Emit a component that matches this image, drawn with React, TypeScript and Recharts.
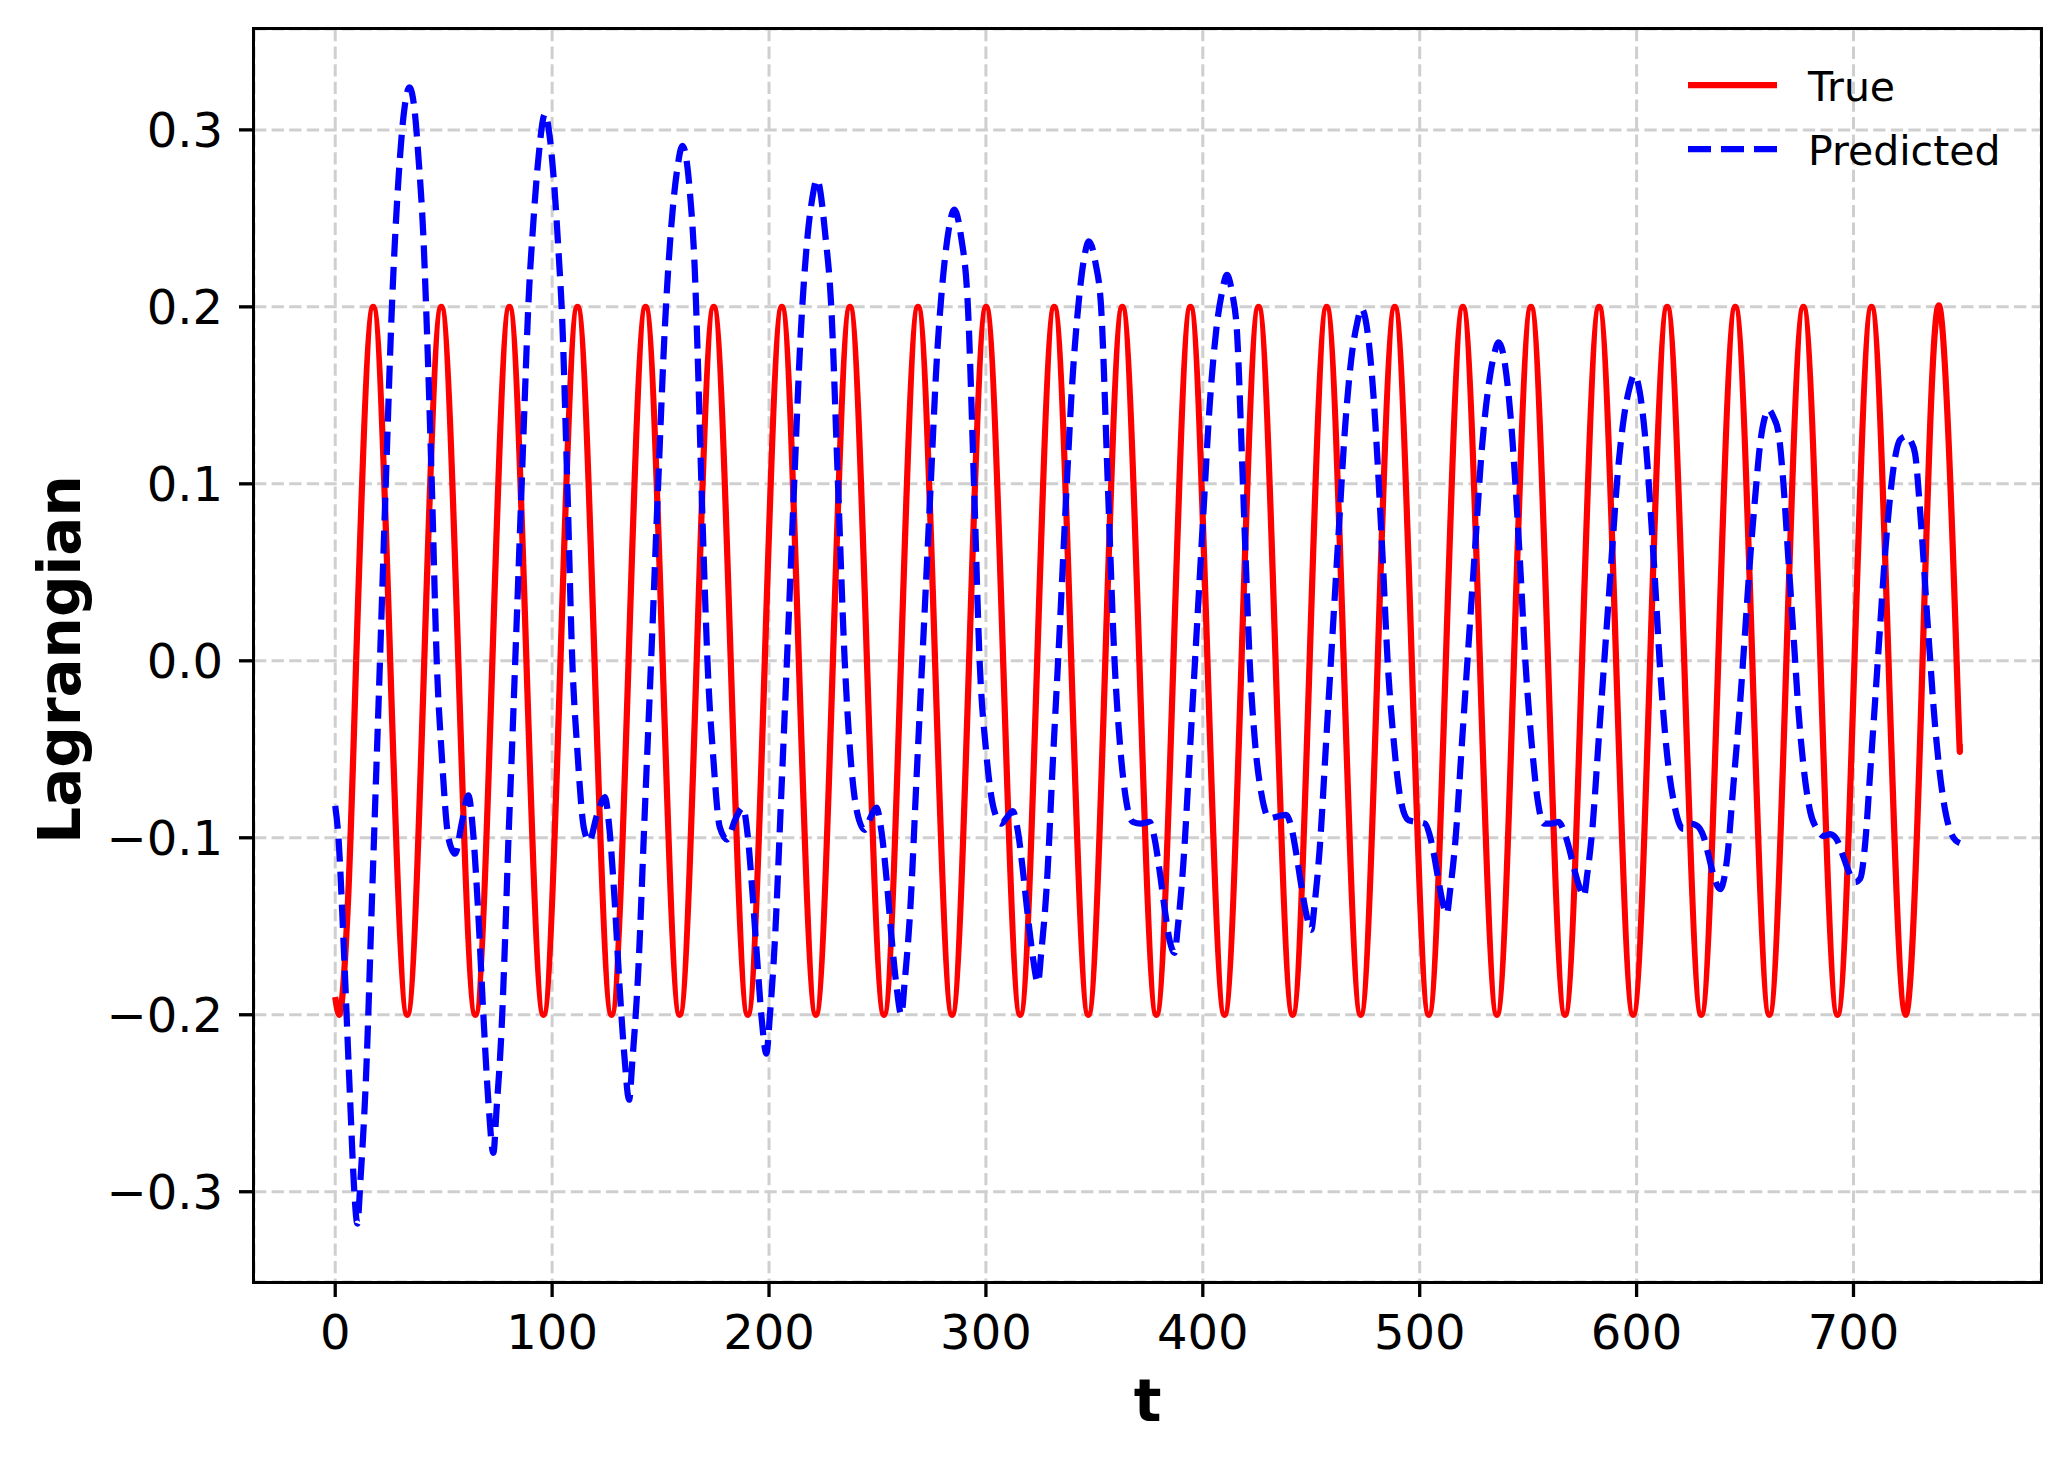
import React from 'react';
import { LineChart, Line, XAxis, YAxis, CartesianGrid, Legend } from 'recharts';

const FONT = 'DejaVu Sans';

const X_TICKS = [0, 100, 200, 300, 400, 500, 600, 700];
const Y_TICKS = [-0.3, -0.2, -0.1, 0, 0.1, 0.2, 0.3];

// True Lagrangian, first hook (t = 0 up to the first zero crossing)
const trueHead: [number, number][] = [
    [0, -0.19], [1.8, -0.2], [5.7, -0.141], [9.65, 0],
];

// True Lagrangian: zero crossings, peaks and troughs
const trueBody: [number, number][] = [
    [9.65, 0], [17.5, 0.2], [25.35, 0],
    [33.2, -0.2], [41.05, 0], [48.9, 0.2], [56.75, 0],
    [64.6, -0.2], [72.45, 0], [80.3, 0.2], [88.15, 0],
    [96.0, -0.2], [103.85, 0], [111.7, 0.2], [119.55, 0],
    [127.4, -0.2], [135.25, 0], [143.1, 0.2], [150.95, 0],
    [158.8, -0.2], [166.65, 0], [174.5, 0.2], [182.35, 0],
    [190.2, -0.2], [198.05, 0], [205.9, 0.2], [213.75, 0],
    [221.6, -0.2], [229.45, 0], [237.3, 0.2], [245.15, 0],
    [253.0, -0.2], [260.85, 0], [268.7, 0.2], [276.55, 0],
    [284.4, -0.2], [292.25, 0], [300.1, 0.2], [307.95, 0],
    [315.8, -0.2], [323.65, 0], [331.5, 0.2], [339.35, 0],
    [347.2, -0.2], [355.05, 0], [362.9, 0.2], [370.75, 0],
    [378.6, -0.2], [386.45, 0], [394.3, 0.2], [402.15, 0],
    [410.0, -0.2], [417.85, 0], [425.7, 0.2], [433.55, 0],
    [441.4, -0.2], [449.25, 0], [457.1, 0.2], [464.95, 0],
    [472.8, -0.2], [480.65, 0], [488.5, 0.2], [496.35, 0],
    [504.2, -0.2], [512.05, 0], [519.9, 0.2], [527.75, 0],
    [535.6, -0.2], [543.45, 0], [551.3, 0.2], [559.15, 0],
    [567.0, -0.2], [574.85, 0], [582.7, 0.2], [590.55, 0],
    [598.4, -0.2], [606.25, 0], [614.1, 0.2], [621.95, 0],
    [629.8, -0.2], [637.65, 0], [645.5, 0.2], [653.35, 0],
    [661.2, -0.2], [669.05, 0], [676.9, 0.2], [684.75, 0],
    [692.6, -0.2], [700.45, 0], [708.3, 0.2], [716.15, 0],
    [724.0, -0.2], [731.85, 0], [739.7, 0.2], [747.55, 0],
    [749, -0.047],
];

// Predicted Lagrangian, one row per oscillation
const predictedPoints: [number, number][] = [
    [0, -0.082], [1.5, -0.1], [3.8, -0.158], [6.9, -0.249], [8.8, -0.3], [10.2, -0.318], [11.7, -0.292],
    [14.2, -0.235], [17.2, -0.125], [20.2, -0.016], [23.2, 0.096], [26.2, 0.202], [29.2, 0.273], [31.7, 0.31],
    [34.2, 0.324], [36.5, 0.312], [38.4, 0.284], [40.7, 0.238], [41.9, 0.2], [44.5, 0.101], [46.8, 0.0],
    [49.1, -0.053], [52.2, -0.1], [55.3, -0.109], [58.3, -0.092], [61.4, -0.076], [63.7, -0.099], [66.0, -0.144],
    [68.3, -0.2], [70.6, -0.249], [72.9, -0.278],

    [74.4, -0.253], [76.7, -0.208], [78.3, -0.158], [79.8, -0.103], [81.4, -0.053], [82.9, -0.003], [84.4, 0.047],
    [86.0, 0.101], [87.5, 0.152], [89.0, 0.2], [91.3, 0.247], [93.6, 0.283], [96.7, 0.309], [99.0, 0.295],
    [100.9, 0.27], [103.2, 0.226], [104.4, 0.2], [107.0, 0.1], [109.3, 0.0], [111.6, -0.05], [114.7, -0.095],
    [117.1, -0.102], [120.5, -0.088], [124.3, -0.077], [126.5, -0.096], [128.8, -0.135], [131.0, -0.182],
    [133.3, -0.223], [135.5, -0.248],

    [137.0, -0.226], [139.6, -0.178], [142.7, -0.086], [145.8, 0.005], [148.9, 0.1], [152.0, 0.189], [155.1, 0.248],
    [157.7, 0.278], [160.1, 0.291], [163.5, 0.265], [165.8, 0.22], [167.3, 0.165], [168.8, 0.101], [170.4, 0.04],
    [171.9, -0.008], [174.2, -0.053], [177.3, -0.094], [180.7, -0.101], [184.3, -0.09], [188.0, -0.083],
    [190.2, -0.099], [192.3, -0.13], [194.5, -0.168], [196.6, -0.202], [198.8, -0.222],

    [200.3, -0.202], [202.7, -0.158], [205.7, -0.074], [208.6, 0.01], [211.5, 0.097], [214.5, 0.182], [217.4, 0.235],
    [219.9, 0.261], [222.1, 0.272], [226.0, 0.24], [228.7, 0.2], [231.5, 0.11], [234.9, 0.0], [237.5, -0.053],
    [240.5, -0.085], [244.1, -0.0955], [247.0, -0.088], [249.5, -0.083], [251.8, -0.096], [254.1, -0.122],
    [256.4, -0.155], [258.7, -0.183], [261.0, -0.2],

    [262.5, -0.182], [265.1, -0.141], [268.1, -0.064], [271.2, 0.014], [274.3, 0.093], [277.3, 0.169], [280.4, 0.219],
    [282.9, 0.244], [285.3, 0.255], [288.5, 0.24], [291.7, 0.2], [294.5, 0.1], [297.1, 0.0], [300.0, -0.05],
    [303.5, -0.083], [307.1, -0.092], [310.0, -0.088], [312.4, -0.085], [314.7, -0.096], [317.0, -0.118],
    [319.4, -0.145], [321.7, -0.168], [324.0, -0.182],

    [325.5, -0.165], [328.0, -0.128], [330.9, -0.056], [333.9, 0.015], [336.8, 0.088], [339.8, 0.157], [342.8, 0.203],
    [345.2, 0.227], [347.5, 0.237], [350.5, 0.225], [353.1, 0.2], [356.2, 0.1], [359.3, 0.0], [362.0, -0.05],
    [364.8, -0.08], [367.7, -0.091], [371.5, -0.092], [375.4, -0.091], [377.7, -0.1], [380.0, -0.118],
    [382.4, -0.14], [384.7, -0.158], [387.0, -0.165],

    [388.5, -0.15], [391.0, -0.115], [394.1, -0.05], [397.1, 0.015], [400.2, 0.082], [403.2, 0.145], [406.2, 0.187],
    [408.8, 0.208], [411.1, 0.218], [413.5, 0.208], [415.8, 0.185], [418.2, 0.11], [420.0, 0.05], [421.6, 0.0],
    [424.0, -0.045], [427.0, -0.075], [430.8, -0.089], [434.5, -0.088], [438.5, -0.087], [440.8, -0.094],
    [443.1, -0.109], [445.4, -0.127], [447.7, -0.143], [450.0, -0.152],

    [451.5, -0.138], [453.9, -0.106], [456.8, -0.047], [459.7, 0.013], [462.7, 0.074], [465.6, 0.132], [468.5, 0.171],
    [471.0, 0.19], [473.2, 0.199], [477.2, 0.172], [479.4, 0.137], [480.5, 0.114], [483.0, 0.056], [485.2, 0.0],
    [488.0, -0.045], [491.0, -0.077], [494.8, -0.09], [498.5, -0.091], [502.5, -0.092], [504.5, -0.098],
    [506.5, -0.109], [508.5, -0.123], [510.5, -0.136], [512.5, -0.143],

    [514.0, -0.13], [516.5, -0.101], [519.5, -0.046], [522.5, 0.009], [525.6, 0.065], [528.6, 0.119], [531.6, 0.154],
    [534.1, 0.172], [536.4, 0.18], [540.5, 0.156], [542.8, 0.124], [543.9, 0.104], [546.5, 0.05], [548.7, 0.0],
    [551.5, -0.045], [554.3, -0.078], [557.2, -0.092], [560.6, -0.092], [564.1, -0.091], [566.4, -0.096],
    [568.7, -0.105], [571.1, -0.117], [573.4, -0.127], [575.7, -0.133],

    [577.2, -0.121], [579.6, -0.095], [582.5, -0.045], [585.4, 0.005], [588.4, 0.057], [591.3, 0.106], [594.2, 0.138],
    [596.7, 0.154], [598.9, 0.1615], [602.8, 0.14], [605.0, 0.111], [606.0, 0.093], [608.5, 0.045], [610.6, 0.0],
    [613.8, -0.05], [617.5, -0.082], [621.5, -0.095], [624.7, -0.092], [627.7, -0.093], [630.8, -0.099],
    [633.2, -0.11], [635.4, -0.121], [638.5, -0.129],

    [641.6, -0.113], [644.7, -0.069], [647.7, -0.024], [650.0, 0.016], [652.3, 0.057], [654.7, 0.093], [657.0, 0.123],
    [659.0, 0.137], [660.8, 0.142], [663.0, 0.138], [665.4, 0.129], [667.7, 0.1], [670.0, 0.057], [671.6, 0.028],
    [673.1, 0.0], [674.6, -0.028], [676.9, -0.059], [680.0, -0.085], [683.1, -0.095], [686.2, -0.099],
    [689.2, -0.098], [692.3, -0.101], [695.4, -0.111], [698.5, -0.121], [700.8, -0.125],

    [703.1, -0.123], [705.4, -0.103], [707.7, -0.063], [710.0, -0.022], [712.3, 0.02], [714.6, 0.061], [716.9, 0.093],
    [719.2, 0.115], [721.5, 0.125], [724.6, 0.127], [726.5, 0.124], [728.4, 0.117], [730.7, 0.085], [732.3, 0.057],
    [733.8, 0.028], [735.4, 0.0], [736.9, -0.026], [739.2, -0.057], [741.5, -0.079], [743.8, -0.093],
    [746.1, -0.1], [749.0, -0.103],
];

const toRows = (pts: [number, number][]) => pts.map(([t, v]) => ({ t, v }));
const trueHeadData = toRows(trueHead);
const trueBodyData = toRows(trueBody);
const predictedData = toRows(predictedPoints);

const fmtY = (v: number) => (v < 0 ? '\u2212' : '') + Math.abs(v).toFixed(1);

const YTitle = (props: any) => {
    const vb = props.viewBox || { x: 0, y: 29, width: 254, height: 1253 };
    const cy = vb.y + vb.height / 2 + 4;
    return (
        <text x={80} y={cy} transform={`rotate(-90 80 ${cy})`} textAnchor="middle"
            fontSize={58} fontWeight="bold" fontFamily={FONT} fill="#000">Lagrangian</text>
    );
};

const XTitle = (props: any) => {
    const vb = props.viewBox || { x: 254, y: 1282, width: 1787, height: 182 };
    return (
        <text x={vb.x + vb.width / 2} y={1421} textAnchor="middle"
            fontSize={58} fontWeight="bold" fontFamily={FONT} fill="#000">t</text>
    );
};

const LegendBox = () => (
    <svg width={360} height={140} style={{ display: 'block' }}>
        <line x1={8} x2={97} y1={35} y2={35} stroke="#ff0000" strokeWidth={6.25} />
        <text x={128} y={51} fontSize={41} fontFamily={FONT} fill="#000">True</text>
        <line x1={8} x2={97} y1={99} y2={99} stroke="#0000ff" strokeWidth={6.25} strokeDasharray="23 10" />
        <text x={128} y={115} fontSize={41} fontFamily={FONT} fill="#000">Predicted</text>
    </svg>
);

const tickStyle = { fontSize: 48, fill: '#000', fontFamily: FONT };
const tickLineStyle = { stroke: '#000', strokeWidth: 3.3 };

export default function App() {
    return (
        <div style={{ position: 'absolute', left: 0, top: 0, width: 2070, height: 1464, background: '#fff' }}>
            <LineChart width={2070} height={1464} margin={{ top: 29, right: 29, bottom: 0, left: 0 }}>
                <CartesianGrid stroke="#cfcfcf" strokeWidth={3} strokeDasharray="12.3 5.3" />
                <XAxis
                    type="number"
                    dataKey="t"
                    domain={[-37.45, 786.45]}
                    ticks={X_TICKS}
                    interval={0}
                    allowDataOverflow
                    height={182}
                    axisLine={false}
                    tickSize={15}
                    tickMargin={18}
                    tick={tickStyle}
                    tickLine={tickLineStyle}
                    label={{ content: <XTitle /> }}
                />
                <YAxis
                    type="number"
                    domain={[-0.351, 0.357]}
                    ticks={Y_TICKS}
                    interval={0}
                    allowDataOverflow
                    width={254}
                    axisLine={false}
                    tickSize={15}
                    tickMargin={16}
                    tick={tickStyle}
                    tickLine={tickLineStyle}
                    tickFormatter={fmtY}
                    label={{ content: <YTitle /> }}
                />
                <Legend
                    layout="vertical"
                    align="center"
                    verticalAlign="middle"
                    wrapperStyle={{ position: 'absolute', top: 50, left: 1680, width: 360, height: 140 }}
                    content={() => <LegendBox />}
                />
                <Line data={trueHeadData} dataKey="v" name="True" legendType="none" type="monotoneX" stroke="#ff0000"
                    strokeWidth={6.25} dot={false} activeDot={false} isAnimationActive={false} />
                <Line data={trueBodyData} dataKey="v" name="True" type="natural" stroke="#ff0000" strokeWidth={6.25}
                    dot={false} activeDot={false} isAnimationActive={false} />
                <Line data={predictedData} dataKey="v" name="Predicted" type="monotoneX" stroke="#0000ff" strokeWidth={6.25}
                    strokeDasharray="23 10" dot={false} activeDot={false} isAnimationActive={false} />
            </LineChart>
            {/* axes frame, drawn like matplotlib spines */}
            <div style={{
                position: 'absolute', left: 252.35, top: 27.35, width: 1790.3, height: 1256.3,
                border: '3.3px solid #000', boxSizing: 'border-box', pointerEvents: 'none',
            }} />
        </div>
    );
}
